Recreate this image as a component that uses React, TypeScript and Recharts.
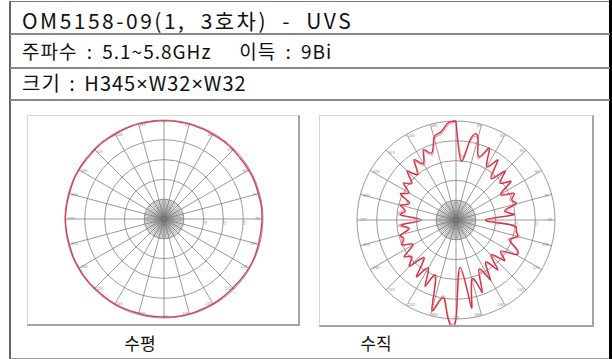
import { RadarChart, Radar, PolarGrid, PolarAngleAxis, PolarRadiusAxis, Curve } from "recharts";

// azimuth / elevation samples, clockwise from top, every 5 degrees
const angles = [
  0, 5, 10, 15, 20, 25, 30, 35, 40, 45, 50, 55,
  60, 65, 70, 75, 80, 85, 90, 95, 100, 105, 110, 115,
  120, 125, 130, 135, 140, 145, 150, 155, 160, 165, 170, 175,
  180, 185, 190, 195, 200, 205, 210, 215, 220, 225, 230, 235,
  240, 245, 250, 255, 260, 265, 270, 275, 280, 285, 290, 295,
  300, 305, 310, 315, 320, 325, 330, 335, 340, 345, 350, 355,
];

// horizontal pattern (dB)
const horizontalDb = [
  -0.3, -0.4, -0.5, -0.4, -0.6, -0.5, -0.7, -0.6, -0.5, -0.6, -0.8, -0.7,
  -0.6, -0.5, -0.6, -0.7, -0.5, -0.4, -0.5, -0.6, -0.7, -0.6, -0.5, -0.4,
  -0.5, -0.6, -0.7, -0.8, -0.7, -0.6, -0.5, -0.6, -0.5, -0.4, -0.3, -0.4,
  -0.5, -0.6, -0.5, -0.7, -0.6, -0.5, -0.4, -0.5, -0.6, -0.5, -0.4, -0.3,
  -0.4, -0.3, -0.4, -0.5, -0.4, -0.3, -0.2, -0.3, -0.4, -0.5, -0.4, -0.3,
  -0.4, -0.5, -0.6, -0.5, -0.4, -0.5, -0.6, -0.5, -0.4, -0.3, -0.4, -0.3,
];

// vertical pattern (dB), two measured traces
const verticalDbA = [
  0, -20, -9, -7, -16, -10, -19, -13, -22.5, -15, -21, -16,
  -24, -18, -20, -19, -25, -21, -35, -22.5, -19, -18, -21, -17,
  -15, -22.5, -18, -25, -17, -24, -15, -22.5, -11, -19, -5, -26,
  0, -1, -10, -3, -20, -13, -22, -15, -25, -17, -21, -18,
  -25, -20, -22, -21, -26, -22.5, -32.5, -22.5, -24, -21, -25, -19,
  -22.5, -17.5, -21, -15, -20, -13, -17, -11, -14, -7, -5, -1,
];
const verticalDbB = [
  -0.5, -18, -10, -8, -17, -11, -18, -14, -21, -16, -20, -17,
  -23, -19, -21, -18, -24, -22, -33, -21, -20, -17, -22, -16,
  -16, -21, -19, -24, -18, -23, -16, -21, -12, -18, -6, -24,
  -1, -2, -11, -4, -19, -14, -21, -16, -24, -18, -20, -19,
  -24, -21, -21, -22, -25, -21, -31, -21, -23, -22, -24, -20,
  -21, -18.5, -20, -16, -19, -14, -18, -12, -15, -8, -6, -2,
];

const ringTicks = [-40, -30, -20, -10, 0];
const radiusLabels = [-30, -20, -10];
const coarseSpokes = Array.from({ length: 24 }, (_, i) => i * 15);
const fineSpokes = Array.from({ length: 72 }, (_, i) => i * 5);

const horizontalData = angles.map((a, i) => ({ angle: a, h: horizontalDb[i] }));
const verticalData = angles.map((a, i) => ({ angle: a, va: verticalDbA[i], vb: verticalDbB[i] }));

const R = 99;
const noMargin = { top: 0, right: 0, bottom: 0, left: 0 };

type Series = { key: string; color: string; width: number };

// closed smooth trace through the radar points
const smoothTrace = (color: string, width: number) => (p: any) => {
  const pts = p.points || [];
  if (!pts.length) return <g />;
  return (
    <Curve
      points={[...pts, pts[0]]}
      type="natural"
      stroke={color}
      strokeWidth={width}
      fill="none"
      strokeLinejoin="round"
    />
  );
};

function PolarPanel(props: {
  data: any[];
  series: Series[];
  left: number;
  top: number;
  width: number;
  height: number;
  cx: number;
  cy: number;
}) {
  const { data, series, left, top, width, height, cx, cy } = props;
  const ringRadii = ringTicks.map((t) => (R * (t + 50)) / 50);
  return (
    <div
      style={{
        position: "absolute",
        left,
        top,
        width,
        height,
        background: "#fff",
        borderTop: "1px solid #d6d6d6",
        borderLeft: "1px solid #d6d6d6",
        borderRight: "2px solid #a4a4a4",
        borderBottom: "2px solid #a4a4a4",
      }}
    >
      {/* dense spokes around the pole */}
      <div style={{ position: "absolute", left: 0, top: 0 }}>
        <RadarChart
          width={width}
          height={height}
          cx={cx}
          cy={cy}
          outerRadius={20}
          data={data}
          margin={noMargin}
          startAngle={90}
          endAngle={-270}
        >
          <PolarGrid gridType="circle" polarAngles={fineSpokes} polarRadius={[]} stroke="#6f6f6f" strokeWidth={0.6} />
        </RadarChart>
      </div>
      <div
        style={{
          position: "absolute",
          left: cx - 3,
          top: cy - 3,
          width: 6,
          height: 6,
          borderRadius: 3,
          background: "#111",
        }}
      />
      <div style={{ position: "absolute", left: 0, top: 0 }}>
        <RadarChart
          width={width}
          height={height}
          cx={cx}
          cy={cy}
          outerRadius={R}
          data={data}
          margin={noMargin}
          startAngle={90}
          endAngle={-270}
        >
          <PolarGrid gridType="circle" polarAngles={coarseSpokes} polarRadius={ringRadii} stroke="#808080" strokeWidth={0.8} />
          <PolarAngleAxis
            dataKey="angle"
            orientation="inner"
            tickSize={3}
            axisLine={false}
            tickLine={false}
            tick={{ fontSize: 4, fill: "#888" }}
            tickFormatter={(v: number) => (Number(v) % 15 === 0 ? String(v) : "")}
          />
          <PolarRadiusAxis
            angle={0}
            domain={[-50, 0]}
            ticks={radiusLabels}
            axisLine={false}
            tickLine={false}
            tick={{ fontSize: 4, fill: "#888" }}
          />
          {series.map((s) => (
            <Radar
              key={s.key}
              dataKey={s.key}
              stroke={s.color}
              strokeWidth={s.width}
              fill="none"
              fillOpacity={0}
              dot={false}
              shape={smoothTrace(s.color, s.width)}
              isAnimationActive={false}
            />
          ))}
        </RadarChart>
      </div>
    </div>
  );
}

const rowText: React.CSSProperties = {
  position: "absolute",
  left: 22,
  fontSize: 20,
  lineHeight: "20px",
  color: "#111",
  whiteSpace: "pre",
};

const narrow: React.CSSProperties = { fontFamily: '"Noto Sans", sans-serif' };

export default function App() {
  return (
    <div
      style={{
        position: "absolute",
        left: 0,
        top: 0,
        width: 612,
        height: 359,
        background: "#fff",
        fontFamily: '"Noto Sans CJK KR", "Noto Sans", sans-serif',
        overflow: "hidden",
      }}
    >
      {/* table frame */}
      <div style={{ position: "absolute", left: 9, top: 1, width: 600, height: 356, borderTop: "1px solid #777", borderLeft: "2px solid #666", borderBottom: "2px solid #999" }} />
      <div style={{ position: "absolute", left: 609, top: 0, width: 3, height: 359, background: "#000" }} />
      <div style={{ position: "absolute", left: 10, top: 33, width: 600, height: 2, background: "#888" }} />
      <div style={{ position: "absolute", left: 10, top: 67, width: 600, height: 2, background: "#888" }} />
      <div style={{ position: "absolute", left: 10, top: 99, width: 600, height: 2, background: "#888" }} />

      <div style={{ ...rowText, top: 10, fontSize: 21, lineHeight: "21px", letterSpacing: 2.5, wordSpacing: 7 }}>OM5158-09(1, 3호차) - UVS</div>
      <div style={{ ...rowText, top: 41, fontSize: 19, letterSpacing: 1, wordSpacing: 4 }}>주파수 : 5.1~5.8GHz   이득 : 9Bi</div>
      <div style={{ ...rowText, top: 73, letterSpacing: 1, wordSpacing: 3 }}>
        크기 : H345<span style={narrow}>×</span>W32<span style={narrow}>×</span>W32
      </div>

      <PolarPanel
        data={horizontalData}
        series={[{ key: "h", color: "#dc3f52", width: 1.4 }]}
        left={27}
        top={115}
        width={270}
        height={208}
        cx={136}
        cy={103}
      />
      <PolarPanel
        data={verticalData}
        series={[
          { key: "vb", color: "#f29aa6", width: 1.2 },
          { key: "va", color: "#d92d40", width: 1.3 },
        ]}
        left={319}
        top={115}
        width={272}
        height={209}
        cx={136}
        cy={104}
      />

      <div style={{ position: "absolute", left: 100, width: 80, top: 333, textAlign: "center", fontSize: 17, lineHeight: "20px", color: "#111" }}>수평</div>
      <div style={{ position: "absolute", left: 336, width: 80, top: 333, textAlign: "center", fontSize: 17, lineHeight: "20px", color: "#111" }}>수직</div>
    </div>
  );
}
